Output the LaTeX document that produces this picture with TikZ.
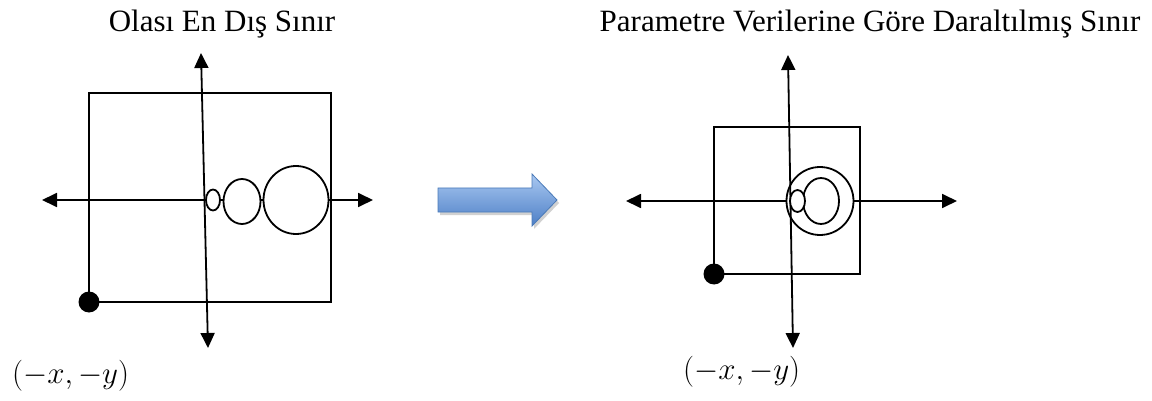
\RequirePackage{fix-cm}
\documentclass[tikz,border=0pt]{standalone}
\usepackage{fontspec}
\setmainfont{Liberation Serif}
\usetikzlibrary{arrows.meta,shapes.geometric}
\definecolor{arrowtop}{HTML}{A9C8F1}
\definecolor{arrowbot}{HTML}{4D7FC6}
\definecolor{arrowedge}{HTML}{4A7AB8}
\begin{document}
\begin{tikzpicture}[x=1pt,y=-1pt,
  axis/.style={line width=1.8pt,{Triangle[length=15pt,width=14pt]}-{Triangle[length=15pt,width=14pt]}},
  frame/.style={line width=1.8pt},
  zone/.style={ellipse,draw,line width=1.8pt,fill=white,inner sep=0pt},
  anchorpt/.style={circle,fill=black,inner sep=0pt,minimum size=21pt},
  title/.style={font=\fontsize{31}{36}\selectfont,anchor=base},
  coordlabel/.style={font=\fontsize{31}{36}\selectfont,anchor=base west,inner sep=0pt}]
\useasboundingbox (0,0) rectangle (1152,401);

% ---------- left panel: widest possible boundary ----------
\node[title] (ltitle) at (222,32) {Olası En Dış Sınır};
\coordinate (ltop) at (201,53);
\coordinate (lbot) at (208,348);
\coordinate (lleft) at (42,200);
\coordinate (lright) at (373,200);
\coordinate (lnw) at (89,93);
\coordinate (lne) at (331,93);
\coordinate (lse) at (331,302);
\coordinate (lsw) at (89,302);
\draw[frame] (lnw) -- (lne) -- (lse) -- (lsw) -- cycle;
\draw[axis] (lleft) -- (lright);
\node[zone,minimum width=37pt,minimum height=45pt] (lmid) at (242,201.5) {};
\node[zone,minimum width=65pt,minimum height=68pt] (lbig) at (296,200) {};
\draw[axis] (ltop) -- (lbot);
\node[zone,minimum width=14pt,minimum height=21pt] (lsmall) at (213,200) {};
\node[anchorpt] (ldot) at (lsw) {};
\node[coordlabel] (llabel) at (12,383) {$(-x,-y)$};

% ---------- transition arrow ----------
\fill[black!18] (440,191) -- (534,191) -- (534,177) -- (559,203) -- (534,229) -- (534,215) -- (440,215) -- cycle;
\shade[top color=arrowtop,bottom color=arrowbot,draw=arrowedge,line width=0.8pt]
  (438,188) -- (532,188) -- (532,174) -- (557,200) -- (532,226) -- (532,212) -- (438,212) -- cycle;

% ---------- right panel: boundary narrowed by parameters ----------
\node[title] (rtitle) at (870,32) {Parametre Verilerine Göre Daraltılmış Sınır};
\coordinate (rtop) at (788,55);
\coordinate (rbot) at (793,348);
\coordinate (rleft) at (626,201);
\coordinate (rright) at (957,201);
\coordinate (rnw) at (714,127);
\coordinate (rne) at (860,127);
\coordinate (rse) at (860,274);
\coordinate (rsw) at (714,274);
\draw[frame] (rnw) -- (rne) -- (rse) -- (rsw) -- cycle;
\draw[axis] (rleft) -- (rright);
\node[zone,minimum width=67pt,minimum height=68pt] (rout) at (820,201) {};
\draw[axis] (rtop) -- (rbot);
\node[zone,minimum width=36pt,minimum height=46pt] (rin) at (821,201) {};
\node[zone,minimum width=15pt,minimum height=22pt] (rsmall) at (797.5,201) {};
\node[anchorpt] (rdot) at (rsw) {};
\node[coordlabel] (rlabel) at (683,379) {$(-x,-y)$};
\end{tikzpicture}
\end{document}
